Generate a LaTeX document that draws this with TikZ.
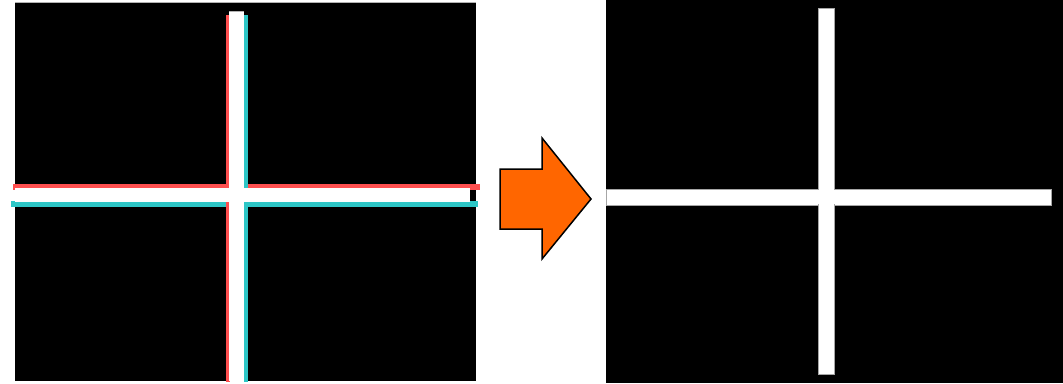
\documentclass[tikz,border=0pt]{standalone}
\definecolor{tred}{HTML}{FF4F4F}
\definecolor{tcyan}{HTML}{2DC6C6}
\definecolor{torange}{HTML}{FF6600}
\tikzset{
  panel/.style={fill=black},
  redband/.style={fill=tred},
  cyanband/.style={fill=tcyan},
  whitebar/.style={fill=white},
  cleanbar/.style={fill=white, draw=gray!70, line width=0.8pt},
  bigarrow/.style={fill=torange, draw=black, line width=1.5pt, line join=miter}
}
\begin{document}
\begin{tikzpicture}[x=1pt,y=-1pt]
\useasboundingbox (0,0) rectangle (1063,383);
% left panel
\fill[gray!60] (15,1.5) rectangle (476,3);
\path[panel] (15,3) rectangle (476,381);
% coloured offsets
\path[redband] (13,184) rectangle (480,190);
\path[cyanband] (11,201) rectangle (478,207);
\path[redband] (225.5,15) rectangle (230,382);
\path[cyanband] (243.5,15) rectangle (248,382);
% white cross
\path[whitebar] (15,188) rectangle (470,202);
\path[whitebar] (229,11) rectangle (244,381);
\draw[gray!60, line width=0.8pt] (229,11) -- (244,11);
% arrow
\draw[bigarrow] (500,169) -- (542,169) -- (542,138) -- (591,199) -- (542,259) -- (542,229) -- (500,229) -- cycle;
% right panel
\path[panel] (606,0) rectangle (1063,383);
\path[cleanbar] (606,189) rectangle (1051,205);
\path[cleanbar] (818,8) rectangle (834,374);
\path[whitebar] (607,189.6) rectangle (1050,204.4);
\end{tikzpicture}
\end{document}
